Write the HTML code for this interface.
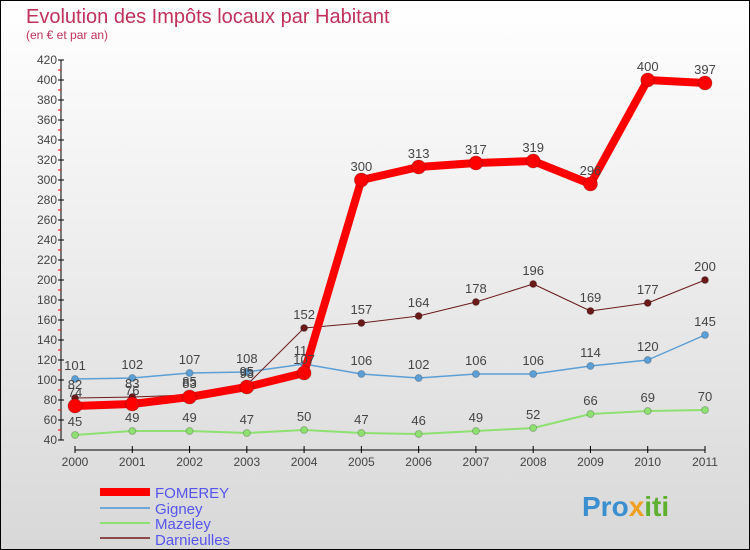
<!DOCTYPE html>
<html><head><meta charset="utf-8"><style>
body{margin:0}
#c{width:750px;height:550px;position:relative;box-sizing:border-box;border:1px solid #000;background:linear-gradient(#fff,#d8d8d8);font-family:"Liberation Sans",sans-serif;overflow:hidden}
</style></head><body>
<div id="c">
<svg id="s" width="750" height="550" style="position:absolute;left:-1px;top:-1px">
<text x="26" y="23" font-size="20" fill="#c0305a">Evolution des Impôts locaux par Habitant</text>
<text x="26" y="39" font-size="12" fill="#c0305a">(en € et par an)</text>
<g id="ax"></g><g id="ser"></g>
<g>
<rect x="100" y="488" width="50" height="8" fill="#f00"/>
<text x="155" y="498" font-size="15" fill="#5555ee">FOMEREY</text>
<rect x="100" y="507" width="50" height="2" fill="#6ea8d8"/>
<text x="155" y="514" font-size="15" fill="#5555ee">Gigney</text>
<rect x="100" y="522" width="50" height="2" fill="#8ee070"/>
<text x="155" y="529" font-size="15" fill="#5555ee">Mazeley</text>
<rect x="100" y="537" width="50" height="2" fill="#8b4a4a"/>
<text x="155" y="545" font-size="15" fill="#5555ee">Darnieulles</text>
</g>
<text x="582" y="516" font-size="28" font-weight="bold" fill="#3a8fd0">Pro<tspan fill="#f0a020">x</tspan><tspan fill="#60b030">iti</tspan></text>
</svg></div>
<script>
const years=["2000","2001","2002","2003","2004","2005","2006","2007","2008","2009","2010","2011"];
const fomerey=[74,76,83,93,107,300,313,317,319,296,400,397];
const gigney=[101,102,107,108,116,106,102,106,106,114,120,145];
const mazeley=[45,49,49,47,50,47,46,49,52,66,69,70];
const darnieulles=[82,83,85,95,152,157,164,178,196,169,177,200];
const yTicks=[40,60,80,100,120,140,160,180,200,220,240,260,280,300,320,340,360,380,400,420];
const NS="http://www.w3.org/2000/svg";
const X=i=>75+i*(630/11), Y=v=>480-v;
function mk(t,a,p){const e=document.createElementNS(NS,t);for(const k in a)e.setAttribute(k,a[k]);p.appendChild(e);return e;}
const ax=document.getElementById('ax'),ser=document.getElementById('ser');
let l=mk('line',{x1:61,y1:60,x2:61,y2:440,stroke:'#000'},ax);


l=mk('line',{x1:75,y1:450,x2:705,y2:450,stroke:'#000'},ax);


yTicks.forEach(v=>{mk('line',{x1:58,x2:64,y1:Y(v),y2:Y(v),stroke:'#000'},ax);
 if(v<420)mk('line',{x1:58,x2:61,y1:Y(v+10),y2:Y(v+10),stroke:'#f00'},ax);
 const t=mk('text',{x:57,y:Y(v)+4,'font-size':12,'text-anchor':'end',fill:'#444'},ax);t.textContent=v;
 
 });
years.forEach((y,i)=>{mk('line',{x1:X(i),x2:X(i),y1:446,y2:453,stroke:'#000'},ax);
 const t=mk('text',{x:X(i),y:466,'font-size':12,'text-anchor':'middle',fill:'#444'},ax);t.textContent=y;
 
 });
function series(d,col,w,r,name){
 const g=mk('g',{},ser);
 
 
 mk('polyline',{points:d.map((v,i)=>X(i)+','+Y(v)).join(' '),fill:'none',stroke:col,'stroke-width':w,'stroke-linejoin':'round'},g);
 d.forEach((v,i)=>{const c=mk('circle',{cx:X(i),cy:Y(v),r:r,fill:col,stroke:'rgba(0,0,0,0.2)'},g);
  
  
  const t=mk('text',{x:X(i),y:Y(v)-9,'font-size':13,'text-anchor':'middle',fill:'#444'},g);t.textContent=v;
  
  });
}
series(mazeley,'#8ee070',2,3.5,'mazeley');
series(gigney,'#5b9fd6',1.5,3.5,'gigney');
series(darnieulles,'#6b1a1a',1,3.5,'darnieulles');
series(fomerey,'#f00',8,7,'fomerey');
</script>
</body></html>
